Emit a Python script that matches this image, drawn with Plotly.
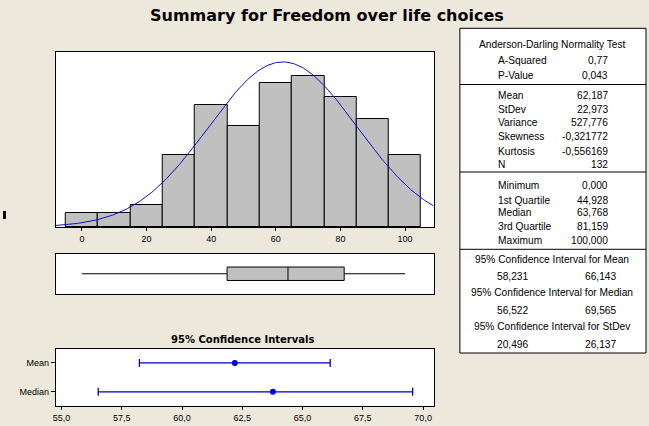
import numpy as np
import plotly.graph_objects as go

W, H = 649, 426
BG = "#ECE9DC"

# ---- data ----
bin_centers = [0, 10, 20, 30, 40, 50, 60, 70, 80, 90, 100]
counts = [2, 2, 3, 10, 17, 14, 20, 21, 18, 15, 10]
bin_width = 10
hist_ticks = [0, 20, 40, 60, 80, 100]

mean_val, stdev_val, n_val = 62.187, 22.973, 132
q1_val, median_val, q3_val = 44.928, 63.768, 81.159
min_val, max_val = 0.0, 100.0

ci_labels = ["Mean", "Median"]
ci_centers = [62.187, 63.768]
ci_low = [58.231, 56.522]
ci_high = [66.143, 69.565]
ci_ticks = [55.0, 57.5, 60.0, 62.5, 65.0, 67.5, 70.0]

table_sections = [
    ("Anderson-Darling Normality Test", [("A-Squared", "0,77"), ("P-Value", "0,043")]),
    (None, [("Mean", "62,187"), ("StDev", "22,973"), ("Variance", "527,776"),
            ("Skewness", "-0,321772"), ("Kurtosis", "-0,556169"), ("N", "132")]),
    (None, [("Minimum", "0,000"), ("1st Quartile", "44,928"), ("Median", "63,768"),
            ("3rd Quartile", "81,159"), ("Maximum", "100,000")]),
]
ci_table = [
    ("95% Confidence Interval for Mean", "58,231", "66,143"),
    ("95% Confidence Interval for Median", "56,522", "69,565"),
    ("95% Confidence Interval for StDev", "20,496", "26,137"),
]

# ---- helpers ----
def px(x):
    return x / W

def py(y):
    return 1 - y / H

FONT = "Liberation Sans, Arial, sans-serif"
BOLD = "DejaVu Sans, Verdana, sans-serif"

fig = go.Figure()

# Histogram
fig.add_trace(go.Bar(x=bin_centers, y=counts, width=bin_width,
                     marker=dict(color="#C0C0C0", line=dict(color="black", width=1)),
                     xaxis="x", yaxis="y", showlegend=False, hoverinfo="skip"))
xr = (-8.1, 108.8)
xc = np.linspace(xr[0], xr[1], 300)
yc = n_val * bin_width / (stdev_val * np.sqrt(2 * np.pi)) * np.exp(-0.5 * ((xc - mean_val) / stdev_val) ** 2)
fig.add_trace(go.Scatter(x=xc, y=yc, mode="lines", line=dict(color="#1010C0", width=1),
                         xaxis="x", yaxis="y", showlegend=False, hoverinfo="skip"))

# Boxplot
fig.add_trace(go.Box(y=[0], q1=[q1_val], median=[median_val], q3=[q3_val],
                     lowerfence=[min_val], upperfence=[max_val], orientation="h",
                     width=0.34, whiskerwidth=0, fillcolor="#C0C0C0",
                     line=dict(color="black", width=1), boxpoints=False,
                     xaxis="x2", yaxis="y2", showlegend=False, hoverinfo="skip"))

# CI plot
ci_y = [1, 0]
fig.add_trace(go.Scatter(
    x=ci_centers, y=ci_y, mode="markers",
    marker=dict(color="#0000E0", size=6),
    error_x=dict(type="data", symmetric=False,
                 array=[h - c for h, c in zip(ci_high, ci_centers)],
                 arrayminus=[c - l for c, l in zip(ci_centers, ci_low)],
                 color="#0000C0", thickness=1.3, width=4),
    xaxis="x3", yaxis="y3", showlegend=False, hoverinfo="skip"))

dom_x = [px(53), px(432.5)]
axis_common = dict(showline=True, mirror=True, linecolor="black", linewidth=1,
                   showgrid=False, zeroline=False)
tickfont = dict(family=FONT, size=9, color="black")

fig.update_layout(
    width=W, height=H, margin=dict(l=0, r=0, t=0, b=0),
    paper_bgcolor=BG, plot_bgcolor="white", separators=",.",
    bargap=0,
    xaxis=dict(domain=dom_x, range=list(xr), tickvals=hist_ticks, ticks="outside",
               ticklen=3, tickcolor="black", tickfont=tickfont, anchor="y", **axis_common),
    yaxis=dict(domain=[py(227), py(52)], range=[0, 24.3], showticklabels=False,
               ticks="", anchor="x", **axis_common),
    xaxis2=dict(domain=dom_x, range=list(xr), showticklabels=False, ticks="",
                anchor="y2", **axis_common),
    yaxis2=dict(domain=[py(293.5), py(254)], range=[-0.5, 0.5], showticklabels=False,
                ticks="", anchor="x2", **axis_common),
    xaxis3=dict(domain=dom_x, range=[54.76, 70.43], tickvals=ci_ticks, tickformat=".1f",
                ticks="outside", ticklen=3, tickcolor="black", tickfont=tickfont,
                anchor="y3", **axis_common),
    yaxis3=dict(domain=[py(405.7), py(349)], range=[-0.48, 1.48], tickvals=ci_y,
                ticktext=ci_labels, ticks="outside", ticklen=4, tickcolor="black",
                tickfont=tickfont, anchor="x3", **axis_common),
)

def note(text, x, y, xanchor, font):
    return dict(text=text, x=px(x), y=py(y), xref="paper", yref="paper",
                xanchor=xanchor, yanchor="middle", showarrow=False, font=font)

ann = []
ann.append(note("<b>Summary for Freedom over life choices</b>", 325.5, 16, "center",
                dict(family=BOLD, size=16, color="black")))
ann.append(note("<b>95% Confidence Intervals</b>", 241, 339, "center",
                dict(family=BOLD, size=10, color="black")))

# Table
TL, TR = 459, 646
shapes = [dict(type="rect", xref="paper", yref="paper", x0=px(TL), x1=px(TR),
               y0=py(353), y1=py(28.3), fillcolor="white", line=dict(color="black", width=1),
               layer="below")]
for ly in [84.5, 172, 249.3]:
    shapes.append(dict(type="line", xref="paper", yref="paper", x0=px(TL), x1=px(TR),
                       y0=py(ly), y1=py(ly), line=dict(color="black", width=1)))
# small mark at left edge
shapes.append(dict(type="rect", xref="paper", yref="paper", x0=0, x1=px(3),
                   y0=py(219), y1=py(211), fillcolor="black", line=dict(width=0)))

tfont = dict(family=FONT, size=10.2, color="black")
row_y = [
    [44, 60, 75],
    [None, 95.7, 109, 122.7, 136.7, 151, 165],
    [None, 185.7, 200, 212.7, 226.7, 240.7],
]
for (header, rows), ys in zip(table_sections, row_y):
    if header:
        ann.append(note(header, 552, ys[0], "center", tfont))
    for (lab, val), yy in zip(rows, ys[1:]):
        ann.append(note(lab, 495, yy, "left", tfont))
        ann.append(note(val, 610, yy, "right", tfont))
ci_ys = [(259.3, 276.7), (292.7, 310.7), (326.7, 344)]
for (hdr, lo, hi), (yh, yv) in zip(ci_table, ci_ys):
    ann.append(note(hdr, 552, yh, "center", tfont))
    ann.append(note(lo, 512, yv, "center", tfont))
    ann.append(note(hi, 600, yv, "center", tfont))

fig.update_layout(annotations=ann, shapes=shapes)
fig.write_html("out.html")
